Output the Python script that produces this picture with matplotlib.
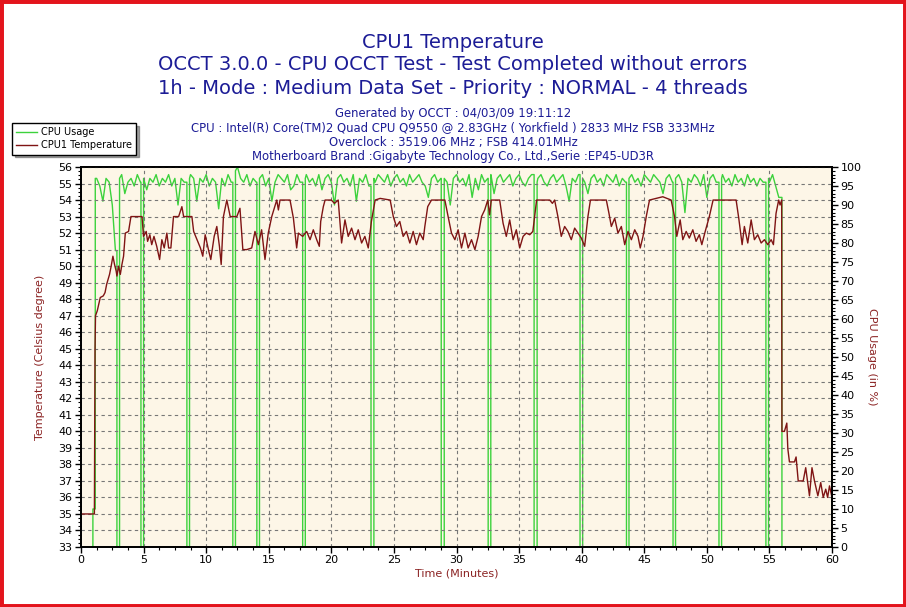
import numpy as np
import matplotlib
matplotlib.use("Agg")
import matplotlib.pyplot as plt
from matplotlib.patches import Rectangle
from matplotlib.ticker import MultipleLocator

# temperature trace (minutes, degrees C)
temp_t = [0.0, 1.07, 1.12, 1.16, 1.3, 1.54, 1.78, 1.92, 2.05, 2.28, 2.41, 2.55, 2.68, 2.81, 2.87,
          3.0, 3.14, 3.27, 3.4, 3.54, 3.8, 3.99, 4.87, 5.0, 5.21, 5.32, 5.5, 5.65, 5.83, 6.05,
          6.28, 6.46, 6.65, 6.86, 7.0, 7.18, 7.39, 7.8, 8.06, 8.2, 8.86, 9.0, 9.27, 9.54, 9.73,
          9.92, 10.18, 10.37, 10.64, 10.85, 11.06, 11.2, 11.38, 11.65, 11.92, 12.45, 12.7, 12.93,
          13.24, 13.64, 13.9, 14.17, 14.43, 14.7, 14.96, 15.24, 15.64, 15.77, 15.9, 16.7, 16.97,
          17.23, 17.37, 17.71, 18.03, 18.3, 18.56, 18.83, 19.04, 19.15, 19.36, 19.5, 20.0, 20.25,
          20.55, 20.82, 21.09, 21.35, 21.62, 21.89, 22.15, 22.42, 22.68, 22.95, 23.2, 23.5, 23.9,
          24.7, 24.95, 25.2, 25.47, 25.74, 26.0, 26.27, 26.54, 26.8, 27.07, 27.34, 27.47, 27.7,
          28.0, 29.07, 29.33, 29.6, 29.87, 30.13, 30.4, 30.67, 30.93, 31.2, 31.47, 31.73, 32.0,
          32.25, 32.5, 32.64, 32.78, 33.45, 33.72, 33.98, 34.25, 34.52, 34.78, 35.05, 35.32,
          35.58, 35.85, 36.1, 36.4, 37.45, 37.66, 37.84, 38.1, 38.37, 38.64, 38.9, 39.17, 39.44,
          39.7, 39.97, 40.24, 40.5, 40.7, 41.97, 42.18, 42.37, 42.64, 42.9, 43.17, 43.44, 43.7,
          43.97, 44.24, 44.5, 44.68, 44.9, 45.16, 45.42, 46.48, 47.15, 47.42, 47.6, 47.87, 48.08,
          48.35, 48.6, 48.88, 49.14, 49.4, 49.6, 49.87, 50.2, 50.5, 52.34, 52.55, 52.82, 53.0,
          53.27, 53.54, 53.8, 54.07, 54.34, 54.6, 54.87, 55.14, 55.32, 55.53, 55.74, 55.85, 55.98,
          56.0, 56.2, 56.39, 56.47, 56.6, 57.0, 57.13, 57.3, 57.7, 57.9, 58.2, 58.4, 58.6, 58.87,
          59.1, 59.3, 59.5, 59.65, 59.8, 60.0]
temp_v = [35, 35, 45, 47.0, 47.3, 48.1, 48.2, 48.4, 48.9, 49.5, 50.0, 50.6, 50.1, 49.7, 49.4,
          50.0, 49.5, 50.1, 50.6, 52.0, 52.1, 53.0, 53.0, 51.8, 52.1, 51.5, 51.9, 51.3, 51.8, 51.2,
          50.4, 51.6, 51.1, 52.0, 51.1, 51.1, 53.0, 53.0, 53.6, 53.0, 53.0, 52.1, 51.6, 51.1, 50.6,
          51.9, 51.0, 50.4, 51.8, 52.4, 51.2, 50.1, 53.0, 54.0, 53.0, 53.0, 53.5, 51.0,
          51.0, 51.1, 52.1, 51.3, 52.2, 50.4, 52.0, 53.0, 54.0, 53.4, 54.0, 54.0, 52.9,
          51.1, 52.0, 51.8, 52.1, 51.6, 52.2, 51.6, 51.2, 52.7, 53.6, 54.0, 54.0, 53.8,
          54.0, 51.4, 52.8, 51.8, 52.3, 51.6, 52.2, 51.4, 51.8, 51.1, 52.7, 54.0, 54.1,
          54.0, 53.0, 52.4, 52.7, 51.8, 52.1, 51.4, 52.1, 51.3, 52.0, 51.6, 52.4, 53.6,
          54.0, 54.0, 53.0, 52.0, 51.6, 52.2, 51.1, 52.0, 51.1, 51.6, 51.0, 51.8, 53.0,
          53.4, 54.0, 53.1, 54.0, 54.0, 52.6, 51.8, 52.8, 51.6, 52.2, 51.1, 51.8,
          52.0, 51.9, 52.1, 54.0, 54.0, 53.8, 54.0, 53.0, 51.8, 52.4, 52.1, 51.6, 52.3,
          52.0, 51.7, 51.2, 53.0, 54.0, 54.0, 53.2, 52.4, 52.9, 52.0, 52.4, 51.3, 52.1,
          51.6, 52.2, 51.8, 51.1, 51.8, 53.0, 54.0, 54.2, 54.0, 53.0, 51.8, 52.8, 51.6,
          52.1, 51.7, 52.2, 51.5, 51.9, 51.3, 52.1, 53.0, 54.0, 54.0, 52.9, 51.3, 52.4,
          51.4, 52.8, 51.6, 51.9, 51.4, 51.6, 51.3, 51.6, 51.3, 53.2, 54.0, 53.7, 54.0,
          40.0, 40.0, 40.5, 38.95, 38.15, 38.15, 38.45, 37.0, 37.0, 37.8, 36.1, 37.8, 37.0, 36.1,
          36.9, 36.0, 36.5, 36.0, 36.7, 36.0]

# cpu usage (%) sampled every quarter minute from 1.25 to 55.75
usage_start = 1.25
usage_step = 0.25
usage_noise = [
    97, 95, 91, 97,  96, 90, 78, 97,  98, 93, 96, 97,  95, 98, 96, 97,
    94, 97, 96, 98,  95, 97, 96, 98,  95, 97, 90, 97,  96, 97, 98, 97,
    91, 97, 96, 98,  95, 97, 96, 89,  97, 95, 98, 96,  99, 100, 97, 96,
    98, 95, 97, 96,  97, 98, 95, 97,  91, 96, 98, 97,  96, 98, 94, 95,
    98, 96, 97, 98,  96, 97, 95, 98,  94, 97, 98, 96,  90, 97, 98, 96,
    97, 95, 98, 91,  97, 96, 98, 95,  97, 96, 98, 97,  96, 98, 95, 97,
    98, 96, 97, 95,  98, 96, 97, 98,  96, 95, 92, 97,  98, 96, 97, 97,
    96, 90, 97, 98,  96, 97, 95, 98,  92, 97, 94, 98,  96, 97, 98, 93,
    97, 98, 96, 97,  98, 95, 97, 98,  96, 95, 97, 98,  96, 97, 98, 96,
    95, 97, 98, 96,  97, 98, 95, 91,  97, 96, 98, 97,  96, 93, 97, 98,
    96, 97, 95, 98,  97, 96, 98, 95,  97, 96, 97, 98,  96, 97, 95, 98,
    97, 96, 98, 97,  96, 93, 97, 98,  96, 97, 98, 96,  88, 97, 96, 98,
    97, 95, 98, 92,  97, 98, 96, 97,  98, 96, 97, 95,  98, 96, 97, 95,
    98, 96, 97, 95,  97, 96, 97, 96,  98, 95, 92]

# (down, up) times of the short drops to 0 %
usage_dips = [(2.87, 3.08), (4.79, 5.0), (8.46, 8.67), (12.13, 12.34), (14.05, 14.26),
              (17.71, 17.92), (23.17, 23.4), (28.78, 29.02), (32.53, 32.74), (36.2, 36.44),
              (39.87, 40.08), (43.58, 43.78), (47.3, 47.5), (50.97, 51.18), (54.72, 54.93)]
usage_stop = 56.0

titles = ["CPU1 Temperature",
          "OCCT 3.0.0 - CPU OCCT Test - Test Completed without errors",
          "1h - Mode : Medium Data Set - Priority : NORMAL - 4 threads"]
infos = ["Generated by OCCT : 04/03/09 19:11:12",
         "CPU : Intel(R) Core(TM)2 Quad CPU Q9550 @ 2.83GHz ( Yorkfield ) 2833 MHz FSB 333MHz",
         "Overclock : 3519.06 MHz ; FSB 414.01MHz",
         "Motherboard Brand :Gigabyte Technology Co., Ltd.,Serie :EP45-UD3R"]

GREEN = "#3cd23c"
RED = "#7f1414"
BLUE = "#1c1c96"
LABEL = "#8b2323"

# build the usage line: start stub, noise, vertical drops, final stop
ux = [0.0, 0.95, 0.95, 1.14, 1.14]
uy = [0, 0, 10, 10, usage_noise[0]]
noise_t = usage_start + usage_step * np.arange(len(usage_noise))
k = 0
skip_to = -1.0
for t, v in zip(noise_t, usage_noise):
    if k < len(usage_dips) and t >= usage_dips[k][0]:
        t0, t1 = usage_dips[k]
        ux += [t0, t0, t1, t1]
        uy += [uy[-1], 0, 0, v]
        skip_to = t1
        k += 1
    if t <= skip_to:
        continue
    ux.append(t)
    uy.append(v)
ux += [usage_stop, usage_stop, 60.0]
uy += [uy[-1], 0, 0]

fig = plt.figure(figsize=(9.06, 6.07), dpi=100)
fig.patch.set_facecolor("white")

ax2 = fig.add_axes([81 / 906, 1 - 547 / 607, 751 / 906, 380 / 607])
ax = ax2.twinx()
ax.set_zorder(ax2.get_zorder() + 1)
ax.patch.set_visible(False)
ax2.set_facecolor("#fdf6e7")

l_use, = ax2.plot(ux, uy, color=GREEN, lw=1.0)
l_tmp, = ax.plot(temp_t, temp_v, color=RED, lw=1.0)

ax2.set_xlim(0, 60)
ax2.set_ylim(0, 100)
ax.set_ylim(33, 56)

# left axis = temperature, right axis = usage
ax.yaxis.tick_left()
ax.yaxis.set_label_position("left")
ax2.yaxis.tick_right()
ax2.yaxis.set_label_position("right")

ax.yaxis.set_major_locator(MultipleLocator(1))
ax.yaxis.set_minor_locator(MultipleLocator(0.25))
ax2.yaxis.set_major_locator(MultipleLocator(5))
ax2.yaxis.set_minor_locator(MultipleLocator(1))
ax2.xaxis.set_major_locator(MultipleLocator(5))
ax2.xaxis.set_minor_locator(MultipleLocator(1.25))
ax.tick_params(axis="x", bottom=False, labelbottom=False)

for a in (ax, ax2):
    a.tick_params(which="major", length=4, width=1, labelsize=8, pad=2, color="black")
    a.tick_params(which="minor", length=2, width=0.8, color="black")
    for s in a.spines.values():
        s.set_linewidth(1.3)
        s.set_color("black")

ax.grid(True, axis="y", which="major", color="#777777", ls=(0, (3, 3)), lw=0.8)
ax.set_axisbelow(True)
for x in np.arange(5, 60, 5):
    ax.axvline(x, color="#777777", ls=(0, (3, 3)), lw=0.8, zorder=0.5)

ax2.set_xlabel("Time (Minutes)", color=LABEL, fontsize=8, labelpad=2)
ax.set_ylabel("Temperature (Celsius degree)", color=LABEL, fontsize=8, labelpad=10)
ax2.set_ylabel("CPU Usage (in %)", color=LABEL, fontsize=8, rotation=270, labelpad=11)

for i, s in enumerate(titles):
    fig.text(0.5, 1 - (42 + 23 * i) / 607, s, ha="center", va="center",
             color=BLUE, fontsize=14.0)
for i, s in enumerate(infos):
    fig.text(0.5, 1 - (113.5 + 14.3 * i) / 607, s, ha="center", va="center",
             color=BLUE, fontsize=8.4)

leg = fig.legend([l_use, l_tmp], ["CPU Usage", "CPU1 Temperature"],
                 loc="upper left", bbox_to_anchor=(12 / 906, 1 - 123 / 607),
                 fontsize=7, frameon=True, fancybox=False, shadow=True,
                 handlelength=2.1, handletextpad=0.4, borderpad=0.45,
                 labelspacing=0.3, borderaxespad=0)
leg.get_frame().set_edgecolor("black")
leg.get_frame().set_linewidth(1.0)

# red window frame
fig.patches.append(Rectangle((0, 0), 1, 1, transform=fig.transFigure,
                             fill=False, edgecolor="#e3141c", lw=5))

fig.savefig("out.png", dpi=100)
